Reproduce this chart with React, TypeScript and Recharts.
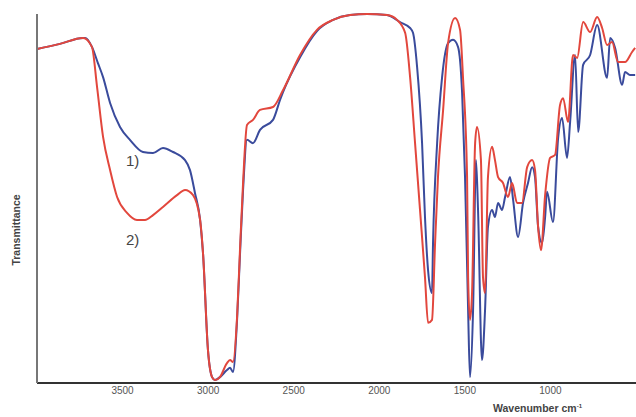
import { LineChart, Line, XAxis, YAxis } from "recharts";

// wavenumber (cm-1) and transmittance (%)
const redWn = [4000, 3866, 3731, 3679, 3649, 3614, 3573, 3532, 3474, 3416, 3369, 3322, 3264, 3182, 3135, 3088, 3047, 3030, 3001, 2977, 2960, 2931, 2890, 2872, 2855, 2831, 2814, 2796, 2773, 2738, 2697, 2621, 2562, 2463, 2364, 2270, 2171, 2071, 1955, 1896, 1849, 1820, 1791, 1762, 1733, 1715, 1692, 1674, 1657, 1627, 1598, 1557, 1528, 1511, 1487, 1481, 1470, 1458, 1440, 1429, 1406, 1394, 1382, 1365, 1341, 1324, 1306, 1277, 1248, 1224, 1195, 1166, 1136, 1107, 1090, 1072, 1055, 1031, 1002, 973, 944, 926, 897, 868, 844, 809, 768, 727, 698, 669, 640, 605, 564, 523, 505];
const redT = [90.5, 91.9, 93.5, 91.1, 80.2, 66.7, 57.7, 50.4, 46.1, 44.2, 44.2, 45.5, 47.7, 50.9, 52.3, 50.9, 44.2, 35.2, 8.9, 1.6, 0.8, 1.6, 5.4, 6.2, 5.7, 17.9, 36.0, 54.2, 69.9, 71.3, 74.0, 74.8, 79.4, 88.9, 95.7, 98.4, 99.7, 100, 99.7, 98.4, 94.9, 82.9, 65.0, 46.9, 28.7, 16.3, 17.1, 37.9, 55.8, 74.0, 92.1, 98.9, 95.7, 82.9, 55.8, 28.7, 17.1, 24.4, 65.0, 69.4, 60.4, 28.7, 24.4, 55.8, 64.0, 60.4, 55.8, 54.2, 50.4, 54.2, 48.8, 48.8, 58.5, 60.4, 57.7, 42.3, 36.0, 50.9, 61.0, 61.8, 75.3, 77.2, 70.7, 88.9, 88.1, 97.8, 95.1, 99.2, 96.2, 91.6, 92.4, 87.0, 87.0, 89.7, 90.8];

const blueWn = [4000, 3866, 3731, 3719, 3679, 3644, 3614, 3573, 3515, 3457, 3381, 3322, 3264, 3205, 3135, 3106, 3077, 3047, 3030, 3001, 2977, 2960, 2931, 2890, 2872, 2855, 2831, 2814, 2796, 2773, 2738, 2697, 2621, 2580, 2562, 2463, 2364, 2270, 2171, 2071, 1955, 1879, 1820, 1803, 1779, 1750, 1733, 1715, 1692, 1686, 1662, 1633, 1598, 1569, 1540, 1516, 1499, 1481, 1470, 1452, 1435, 1423, 1400, 1382, 1365, 1341, 1324, 1306, 1283, 1265, 1236, 1218, 1189, 1160, 1131, 1107, 1090, 1072, 1049, 1031, 1020, 985, 955, 932, 903, 885, 856, 838, 809, 768, 727, 669, 651, 622, 581, 564, 535, 505];
const blueT = [90.5, 91.9, 93.5, 93.5, 91.1, 86.7, 82.9, 75.9, 69.4, 65.9, 62.6, 62.3, 63.7, 62.6, 60.4, 57.7, 51.5, 44.2, 35.2, 8.9, 1.6, 0.8, 1.6, 3.5, 4.1, 3.0, 17.1, 34.7, 52.3, 65.9, 65.0, 68.6, 71.3, 76.7, 78.9, 88.3, 95.4, 98.4, 99.7, 100, 99.7, 97.8, 96.2, 94.9, 85.6, 65.0, 45.0, 30.6, 24.4, 37.9, 65.0, 82.9, 92.1, 93.0, 91.1, 78.6, 55.8, 19.8, 1.6, 19.8, 60.4, 46.9, 6.2, 19.8, 42.3, 46.9, 45.0, 48.8, 46.9, 50.4, 55.8, 49.6, 39.6, 48.8, 54.2, 58.5, 55.8, 42.3, 37.9, 45.0, 51.8, 43.6, 66.4, 71.8, 61.0, 70.7, 88.9, 68.0, 86.2, 88.9, 97.0, 82.7, 93.5, 90.8, 80.8, 84.3, 83.5, 83.5];

const xTicks = [3500, 3000, 2500, 2000, 1500, 1000];

const redData = redWn.map((wn, i) => ({ wn, t: redT[i] }));
const blueData = blueWn.map((wn, i) => ({ wn, t: blueT[i] }));

const font = "'Liberation Sans', Arial, sans-serif";

export default function App() {
  return (
    <div style={{ position: "absolute", left: 0, top: 0, width: 636, height: 417, background: "#fff", fontFamily: font }}>
      <LineChart width={636} height={417} margin={{ top: 14, right: 0, bottom: 0, left: 36 }}>
        <XAxis
          type="number"
          dataKey="wn"
          domain={[500, 4000]}
          reversed
          allowDataOverflow
          ticks={xTicks}
          tickLine={false}
          tickSize={0}
          tickMargin={4}
          height={34}
          axisLine={{ stroke: "#333", strokeWidth: 2 }}
          tick={{ fill: "#555", fontSize: 10, fontFamily: font }}
        />
        <YAxis
          type="number"
          domain={[0, 100]}
          width={1}
          tick={false}
          tickLine={false}
          axisLine={{ stroke: "#777", strokeWidth: 2 }}
        />
        <Line data={blueData} dataKey="t" type="monotone" stroke="#3a4b9c" strokeWidth={2} dot={false} isAnimationActive={false} />
        <Line data={redData} dataKey="t" type="monotone" stroke="#e2473d" strokeWidth={2} dot={false} isAnimationActive={false} />
      </LineChart>
      <div style={{ position: "absolute", left: 126, top: 152, fontSize: 15, color: "#444" }}>1)</div>
      <div style={{ position: "absolute", left: 126, top: 231, fontSize: 15, color: "#444" }}>2)</div>
      <div
        style={{
          position: "absolute",
          left: 16,
          top: 230,
          transform: "translate(-50%, -50%) rotate(-90deg)",
          fontSize: 10.5,
          fontWeight: "bold",
          color: "#444",
          whiteSpace: "nowrap",
        }}
      >
        Transmittance
      </div>
      <div style={{ position: "absolute", left: 493, top: 402, fontSize: 10.5, fontWeight: "bold", color: "#444", whiteSpace: "nowrap" }}>
        Wavenumber cm<sup style={{ fontSize: 6 }}>-1</sup>
      </div>
    </div>
  );
}
